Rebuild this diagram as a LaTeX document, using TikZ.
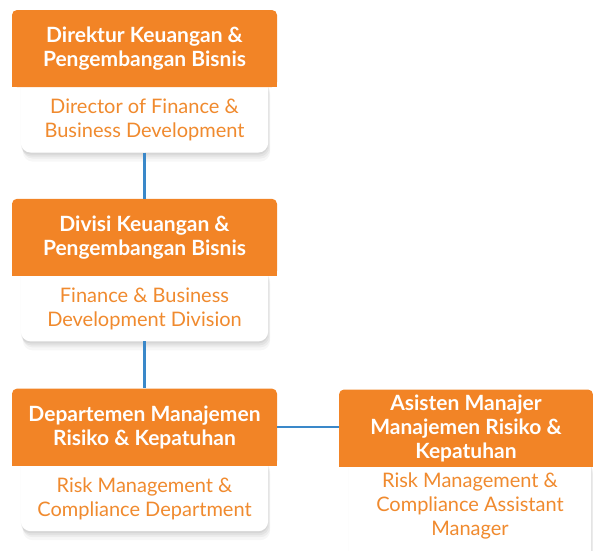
\documentclass[tikz,border=0pt]{standalone}
\usepackage{fontspec}
\setmainfont{Lato}
\usepackage{tikz}
\usetikzlibrary{positioning, calc, shadows}
\definecolor{hdrorange}{HTML}{F28426}
\definecolor{txtorange}{HTML}{F08A2E}
\definecolor{linkblue}{HTML}{3A88C9}
\pgfdeclarelayer{bg}
\pgfsetlayers{bg,main}

\begin{document}
\begin{tikzpicture}[
    x=1pt, y=-1pt,
    header/.style={rectangle, rounded corners=5pt, fill=hdrorange, text=white, minimum width=265pt, minimum height=77pt, inner sep=0pt, align=center, font=\fontsize{21}{24}\selectfont\bfseries},
    body/.style={rectangle, minimum width=247pt, minimum height=65pt, inner sep=0pt, align=center, text=txtorange, font=\fontsize{20}{24}\selectfont},
    card/.style={fill=white, rounded corners=10pt,
        general shadow={fill=black, opacity=0.05, shadow yshift=-2pt},
        general shadow={fill=black, opacity=0.05, shadow yshift=-4pt, shadow xshift=1pt},
        general shadow={fill=black, opacity=0.04, shadow yshift=-6pt, shadow xshift=2pt},
        general shadow={fill=black, opacity=0.03, shadow yshift=-9pt, shadow xshift=2pt}},
    link/.style={draw=linkblue, line width=2.5pt}
]
    \useasboundingbox (0,0) rectangle (593,550);

    % Left column
    \node[header] (dir_hdr) at (144.5,48.5) {Direktur Keuangan \&\\Pengembangan Bisnis};
    \node[body, below=0pt of dir_hdr] (dir_body) {Director of Finance \&\\Business Development};

    \node[header, below=46pt of dir_body] (div_hdr) {Divisi Keuangan \&\\Pengembangan Bisnis};
    \node[body, below=0pt of div_hdr] (div_body) {Finance \& Business\\Development Division};

    \node[header, below=47pt of div_body] (risk_hdr) {Departemen Manajemen\\Risiko \& Kepatuhan};
    \node[body, below=0pt of risk_hdr] (risk_body) {Risk Management \&\\Compliance Department};

    % Right box
    \node[header, minimum width=254pt] (asm_hdr) at (466,428) {Asisten Manajer\\Manajemen Risiko \&\\Kepatuhan};
    \node[body, minimum width=242pt, minimum height=78pt, below=0pt of asm_hdr, xshift=4pt] (asm_body) {Risk Management \&\\Compliance Assistant\\Manager};

    % Cards and square header bottoms
    \begin{pgfonlayer}{bg}
        \foreach \b in {dir_body, div_body, risk_body}
            \path[card] ([yshift=10pt]\b.north west) rectangle (\b.south east);
        \path[card] ([yshift=10pt]asm_body.north west) rectangle ([yshift=-20pt]asm_body.south east);
        \foreach \h in {dir_hdr, div_hdr, risk_hdr, asm_hdr}
            \fill[hdrorange] ([yshift=10pt]\h.south west) rectangle (\h.south east);
    \end{pgfonlayer}

    % Connections
    \draw[link] (dir_body) -- (div_hdr);
    \draw[link] (div_body) -- (risk_hdr);
    \draw[link] (risk_hdr.east) -- (risk_hdr.east -| asm_hdr.west);

\end{tikzpicture}
\end{document}
